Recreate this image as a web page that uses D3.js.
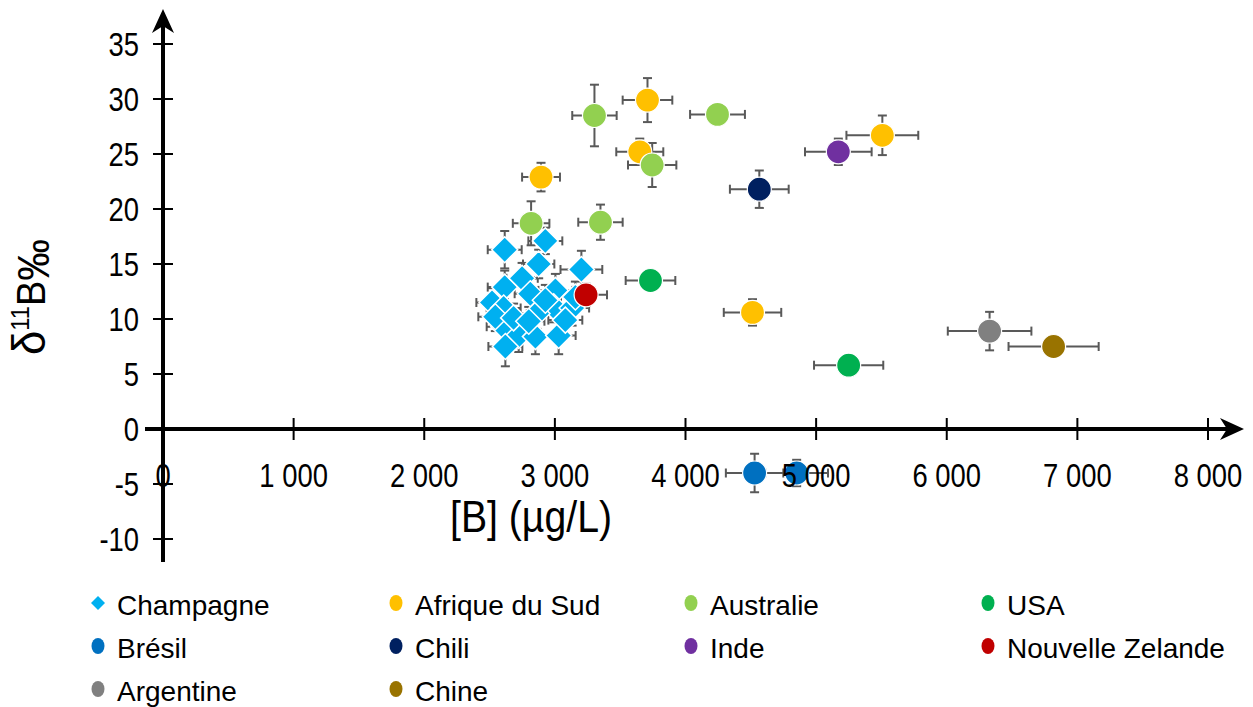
<!DOCTYPE html>
<html><head><meta charset="utf-8">
<script src="https://cdn.jsdelivr.net/npm/d3@7"></script>
<style>body{margin:0;background:#fff}svg{display:block}</style>
</head><body><svg id="c" width="1253" height="707"></svg>
<script>
// ---- data: [B] µg/L, δ11B ‰, x error, y error ----
const categories = ["Champagne","Afrique du Sud","Australie","USA","Brésil","Chili","Inde","Nouvelle Zelande","Argentine","Chine"];
const seriesColors = ["#00B0F0","#FFC000","#92D050","#00B050","#0070C0","#002060","#7030A0","#C00000","#808080","#997300"];
const champagne = [
  [2616,16.3,130,1.7],[2927,17.1,130,1.2],[2876,15.0,120,1.3],[3203,14.5,160,1.7],
  [2616,12.9,130,1.5],[2749,13.7,120,1.4],[2519,11.5,120,1.3],[2608,11.0,130,1.4],
  [2812,12.3,120,1.5],[3004,12.6,130,1.5],[2991,11.1,140,1.4],[3132,11.0,130,1.6],
  [2863,10.5,130,1.4],[2608,9.3,130,1.3],[2723,8.5,120,1.5],[2851,8.4,130,1.6],
  [3029,8.5,130,1.7],[2621,7.5,130,1.8],[2544,10.2,130,1.3],[3157,12.0,130,1.4],
  [2927,11.7,120,1.4],[2684,10.1,120,1.3],[3080,9.9,130,1.4],[2800,9.8,120,1.3]
];
const afriqueDuSud = [[3709,29.9,190,2.0],[3650,25.2,180,1.2],[2894,22.9,145,1.3],[5507,26.7,275,1.8],[4513,10.6,220,1.2]];
const australie = [[3303,28.5,170,2.8],[4245,28.6,210,0],[3745,24.0,185,2.0],[2818,18.7,140,2.0],[3349,18.8,170,1.6]];
const usa = [[3732,13.5,190,0],[5249,5.8,265,0]];
const bresil = [[4529,-4.0,220,1.75],[4851,-4.0,240,1.2]];
const chili = [[4565,21.8,225,1.7]];
const inde = [[5170,25.2,255,1.2]];
const nouvelleZelande = [[3239,12.2,160,1.0]];
const argentine = [[6328,8.9,320,1.75]];
const chine = [[6818,7.5,345,0]];
const seriesData = [champagne,afriqueDuSud,australie,usa,bresil,chili,inde,nouvelleZelande,argentine,chine];
const xTicks = [0,1000,2000,3000,4000,5000,6000,7000,8000];
const yTicks = [-10,-5,0,5,10,15,20,25,30,35];
const xTickLabels = ["0","1 000","2 000","3 000","4 000","5 000","6 000","7 000","8 000"];

const svg = d3.select("#c");
const x = d3.scaleLinear().domain([0,8000]).range([163,1208]);
const y = d3.scaleLinear().domain([-10,35]).range([539,44]);
const sans = "'Liberation Sans',Arial,sans-serif";

// error bars
const eb = svg.append("g").attr("stroke","#595959").attr("stroke-width",2).attr("fill","none");
seriesData.forEach(s => s.forEach(d => {
  const cx = x(d[0]), cy = y(d[1]);
  if (d[2] > 0) {
    const x1 = x(d[0]-d[2]), x2 = x(d[0]+d[2]);
    eb.append("line").attr("x1",x1).attr("x2",x2).attr("y1",cy).attr("y2",cy);
    eb.append("line").attr("x1",x1).attr("x2",x1).attr("y1",cy-4.5).attr("y2",cy+4.5);
    eb.append("line").attr("x1",x2).attr("x2",x2).attr("y1",cy-4.5).attr("y2",cy+4.5);
  }
  if (d[3] > 0) {
    const y1 = y(d[1]-d[3]), y2 = y(d[1]+d[3]);
    eb.append("line").attr("x1",cx).attr("x2",cx).attr("y1",y1).attr("y2",y2);
    eb.append("line").attr("x1",cx-4.5).attr("x2",cx+4.5).attr("y1",y1).attr("y2",y1);
    eb.append("line").attr("x1",cx-4.5).attr("x2",cx+4.5).attr("y1",y2).attr("y2",y2);
  }
}));

// axes
const ax = svg.append("g");
const ay0 = y(0), ax0 = x(0);
ax.append("line").attr("x1",145).attr("x2",1232).attr("y1",ay0).attr("y2",ay0).attr("stroke","#000").attr("stroke-width",4);
ax.append("line").attr("x1",ax0).attr("x2",ax0).attr("y1",22).attr("y2",562).attr("stroke","#000").attr("stroke-width",4);
ax.append("path").attr("d",`M${ax0},9 L${ax0+11},33 L${ax0},26 L${ax0-11},33 Z`).attr("fill","#000");
ax.append("path").attr("d",`M1244,${ay0} L1220,${ay0-11} L1227,${ay0} L1220,${ay0+11} Z`).attr("fill","#000");
ax.selectAll(".xt").data(xTicks.slice(1)).join("line").attr("x1",d=>x(d)).attr("x2",d=>x(d))
  .attr("y1",ay0-11).attr("y2",ay0+11).attr("stroke","#000").attr("stroke-width",2);
ax.selectAll(".yt").data(yTicks).join("line").attr("x1",ax0-10).attr("x2",ax0+10)
  .attr("y1",d=>y(d)).attr("y2",d=>y(d)).attr("stroke","#000").attr("stroke-width",2);

// markers
const mk = svg.append("g");
seriesData.forEach((s,i) => {
  const g = mk.append("g");
  if (i === 0) {
    g.selectAll("path").data(s).join("path")
      .attr("d",d=>{const cx=x(d[0]),cy=y(d[1]),r=13;return `M${cx},${cy-r}L${cx+r},${cy}L${cx},${cy+r}L${cx-r},${cy}Z`;})
      .attr("fill",seriesColors[i]).attr("stroke","#fff").attr("stroke-width",1.5);
  } else {
    g.selectAll("circle").data(s).join("circle").attr("cx",d=>x(d[0])).attr("cy",d=>y(d[1])).attr("r",12)
      .attr("fill",seriesColors[i]).attr("stroke","#fff").attr("stroke-width",1.2);
  }
});

// tick labels (condensed)
const tl = svg.append("g").attr("font-family",sans).attr("font-size",33).attr("fill","#000");
tl.selectAll(".xl").data(xTicks).join("text").attr("transform",d=>`translate(${x(d)},487) scale(0.83,1)`)
  .attr("text-anchor","middle").text((d,i)=>xTickLabels[i]);
tl.selectAll(".yl").data(yTicks).join("text").attr("transform",d=>`translate(139,${y(d)+12}) scale(0.83,1)`)
  .attr("text-anchor","end").text(d=>String(d));

// axis titles
svg.append("text").attr("x",450).attr("y",532).attr("font-family",sans).attr("font-size",44)
  .attr("textLength",162).attr("lengthAdjust","spacingAndGlyphs").text("[B] (µg/L)");
const yt = svg.append("text").attr("transform","translate(45,297) rotate(-90) scale(0.95,1)").attr("text-anchor","middle")
  .attr("font-family",sans).attr("font-size",40);
yt.append("tspan").attr("font-size",46).text("δ");
yt.append("tspan").attr("font-size",25).attr("dy",-16).text("11");
yt.append("tspan").attr("dy",16).attr("font-size",40).text("B");
yt.append("tspan").attr("font-size",44).attr("dy",4).text("‰");

// legend
const colX = [117,415,710,1007];
const rowY = [615,658,701];
const lg = svg.append("g").attr("font-family",sans).attr("font-size",28);
categories.forEach((c,i) => {
  const tx = colX[i%4], ty = rowY[Math.floor(i/4)];
  const mx = tx-19, my = ty-12;
  if (i === 0) lg.append("path").attr("d",`M${mx},${my-7}L${mx+7},${my}L${mx},${my+7}L${mx-7},${my}Z`).attr("fill",seriesColors[i]);
  else lg.append("ellipse").attr("cx",mx).attr("cy",my).attr("rx",6.5).attr("ry",8).attr("fill",seriesColors[i]);
  lg.append("text").attr("x",tx).attr("y",ty).text(c);
});
</script></body></html>
